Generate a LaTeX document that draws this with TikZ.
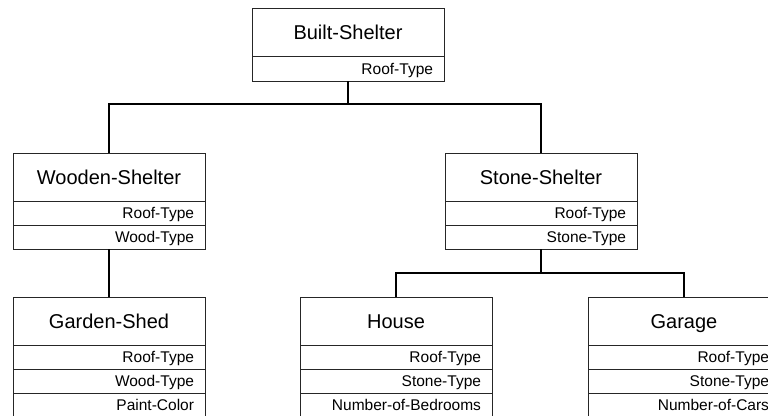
\documentclass[tikz,border=0pt]{standalone}
\usepackage{fontspec}
\setmainfont{Liberation Sans}
\usetikzlibrary{positioning}

\tikzset{
  classhead/.style={draw=black!85, line width=0.9pt, minimum width=192pt, minimum height=48pt,
    inner sep=0pt, outer sep=0pt, text height=14.3pt, text depth=0pt,
    font=\fontsize{20}{22}\selectfont},
  attrrow/.style={draw=black!85, line width=0.9pt, minimum height=24pt, text width=170pt,
    inner xsep=11pt, inner ysep=0pt, outer sep=0pt, text height=11.1pt, text depth=0pt,
    align=right, font=\fontsize{15.5}{17}\selectfont},
  link/.style={draw=black, line width=2pt}
}

\begin{document}
\begin{tikzpicture}[x=1pt,y=-1pt]
  \useasboundingbox (0,0) rectangle (768,415);

  % top class
  \node[classhead] (built) at (348,32) {Built-Shelter};
  \node[attrrow, minimum height=25pt, below=0pt of built] (built-a1) {Roof-Type};

  % second level
  \node[classhead] (wooden) at (109,177) {Wooden-Shelter};
  \node[attrrow, below=0pt of wooden] (wooden-a1) {Roof-Type};
  \node[attrrow, below=0pt of wooden-a1] (wooden-a2) {Wood-Type};

  \node[classhead] (stone) at (541,177) {Stone-Shelter};
  \node[attrrow, below=0pt of stone] (stone-a1) {Roof-Type};
  \node[attrrow, below=0pt of stone-a1] (stone-a2) {Stone-Type};

  % bottom level
  \node[classhead] (shed) at (109,321) {Garden-Shed};
  \node[attrrow, below=0pt of shed] (shed-a1) {Roof-Type};
  \node[attrrow, below=0pt of shed-a1] (shed-a2) {Wood-Type};
  \node[attrrow, below=0pt of shed-a2] (shed-a3) {Paint-Color};

  \node[classhead] (house) at (396,321) {House};
  \node[attrrow, below=0pt of house] (house-a1) {Roof-Type};
  \node[attrrow, below=0pt of house-a1] (house-a2) {Stone-Type};
  \node[attrrow, below=0pt of house-a2] (house-a3) {Number-of-Bedrooms};

  \node[classhead] (garage) at (684,321) {Garage};
  \node[attrrow, below=0pt of garage] (garage-a1) {Roof-Type};
  \node[attrrow, below=0pt of garage-a1] (garage-a2) {Stone-Type};
  \node[attrrow, below=0pt of garage-a2] (garage-a3) {Number-of-Cars};

  % inheritance links
  \coordinate (j1) at ([yshift=-23pt]built-a1.south);
  \draw[link] (built-a1.south) -- (j1);
  \draw[link] (wooden.north) |- (j1);
  \draw[link] (stone.north) |- (j1);

  \draw[link] (wooden-a2.south) -- (shed.north);

  \coordinate (j2) at ([yshift=-24pt]stone-a2.south);
  \draw[link] (stone-a2.south) -- (j2);
  \draw[link] (house.north) |- (j2);
  \draw[link] (garage.north) |- (j2);
\end{tikzpicture}
\end{document}
